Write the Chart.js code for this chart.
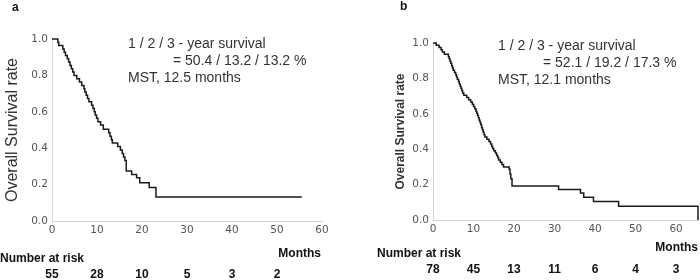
<!DOCTYPE html>
<html>
<head>
<meta charset="utf-8">
<script src="https://cdn.jsdelivr.net/npm/chart.js@4"></script>
<style>
  body { margin: 0; background: #fff; }
  #wrap { position: relative; width: 700px; height: 280px; }
  canvas { position: absolute; top: 0; }
</style>
</head>
<body>
<div id="wrap">
  <canvas id="chartA" width="350" height="280" style="left:0"></canvas>
  <canvas id="chartB" width="350" height="280" style="left:350px"></canvas>
</div>
<script>
// Panel a: Kaplan-Meier steps (months, survival after each drop)
const monthsA = [0, 1.3, 1.5, 2.4, 2.7, 3.0, 3.4, 3.7, 4.0, 4.3, 4.6, 4.9, 5.5, 6.1, 6.6, 7.1, 7.3, 7.6, 7.9, 8.2,
  8.8, 9.1, 9.4, 9.6, 9.9, 10.2, 10.8, 11.4, 12.6, 12.9, 13.2, 13.4, 14.6, 15.2, 15.6, 15.9, 16.2, 16.5,
  17.7, 18.8, 19.5, 21.6, 23.1, 55.5];
const survivalA = [1.0, 0.982, 0.964, 0.945, 0.927, 0.909, 0.891, 0.873, 0.855, 0.836, 0.818, 0.800, 0.782, 0.764,
  0.745, 0.727, 0.709, 0.691, 0.673, 0.655, 0.636, 0.618, 0.600, 0.582, 0.564, 0.545, 0.527, 0.504, 0.485,
  0.466, 0.447, 0.428, 0.409, 0.390, 0.371, 0.352, 0.333, 0.275, 0.256, 0.237, 0.210, 0.184, 0.132, 0.132];
const riskTimesA = [0, 10, 20, 30, 40, 50];
const riskCountsA = [55, 28, 10, 5, 3, 2];

// Panel b
const monthsB = [0, 0.8, 1.5, 2.0, 2.3, 2.8, 3.8, 4.0, 4.2, 4.4, 4.6, 4.8, 5.0, 5.3, 5.6, 5.8, 6.0, 6.3, 6.5, 6.7,
  6.9, 7.1, 7.3, 7.6, 8.3, 8.8, 9.3, 9.7, 10.0, 10.3, 10.6, 10.8, 11.0, 11.2, 11.4, 11.6, 11.8, 12.0, 12.2,
  12.4, 12.6, 12.8, 13.3, 13.8, 14.2, 14.5, 14.7, 15.0, 15.4, 15.7, 16.0, 16.2, 16.6, 17.0, 17.4, 18.8,
  19.0, 19.2, 19.5, 31.0, 36.4, 37.2, 39.6, 45.8, 65.4];
const survivalB = [1.0, 0.987, 0.974, 0.962, 0.949, 0.936, 0.923, 0.910, 0.897, 0.885, 0.872, 0.859, 0.846, 0.833,
  0.821, 0.808, 0.795, 0.782, 0.769, 0.756, 0.744, 0.731, 0.718, 0.705, 0.692, 0.679, 0.667, 0.654, 0.641,
  0.628, 0.615, 0.603, 0.590, 0.577, 0.564, 0.551, 0.538, 0.521, 0.508, 0.495, 0.482, 0.469, 0.456, 0.443,
  0.430, 0.417, 0.404, 0.391, 0.378, 0.365, 0.352, 0.339, 0.326, 0.313, 0.300, 0.287, 0.260, 0.233, 0.192,
  0.172, 0.152, 0.128, 0.104, 0.077, 0.0];
const riskTimesB = [0, 10, 20, 30, 40, 50, 60];
const riskCountsB = [78, 45, 13, 11, 6, 4, 3];

const yTicks = [0, 0.2, 0.4, 0.6, 0.8, 1.0];

Chart.defaults.font.family = "'Liberation Sans', Arial, sans-serif";
Chart.defaults.color = '#333';

function points(xs, ys) {
  return xs.map((x, i) => ({ x: x, y: ys[i] }));
}

// draws the panel letter, survival notes and the number-at-risk row
function notesPlugin(cfg) {
  return {
    id: 'notes',
    afterDraw(chart) {
      const ctx = chart.ctx;
      const xs = chart.scales.x;
      ctx.save();
      ctx.fillStyle = '#111';
      ctx.textBaseline = 'middle';
      ctx.font = "bold 12px 'Liberation Sans', Arial";
      ctx.textAlign = 'left';
      ctx.fillText(cfg.letter, cfg.letterX, cfg.letterY);

      ctx.fillStyle = '#333';
      ctx.font = "14px 'Liberation Sans', Arial";
      ctx.fillText('1 / 2 / 3 - year survival', cfg.noteX, cfg.noteY);
      ctx.fillText(cfg.rates, cfg.noteX + 45, cfg.noteY + 17);
      ctx.fillText(cfg.mst, cfg.noteX, cfg.noteY + 34);

      ctx.fillStyle = '#111';
      ctx.font = "bold 12px 'Liberation Sans', Arial";
      ctx.fillText('Number at risk', cfg.riskLabelX, cfg.riskLabelY);
      ctx.textAlign = 'right';
      ctx.fillText('Months', cfg.monthsX, cfg.monthsY);
      ctx.textAlign = 'center';
      cfg.riskTimes.forEach((t, i) => {
        ctx.fillText(String(cfg.riskCounts[i]), xs.getPixelForValue(t), cfg.riskY);
      });
      ctx.restore();
    }
  };
}

function makeChart(id, xs, ys, opt) {
  return new Chart(document.getElementById(id), {
    type: 'line',
    data: {
      datasets: [{
        data: points(xs, ys),
        stepped: 'before',
        borderColor: '#1a1a1a',
        borderWidth: 1.5,
        pointRadius: 0,
        fill: false,
        clip: false
      }]
    },
    options: {
      responsive: false,
      animation: false,
      layout: { padding: { left: opt.padLeft, right: opt.padRight, top: opt.padTop, bottom: 0 } },
      plugins: { legend: { display: false }, tooltip: { enabled: false } },
      scales: {
        x: {
          type: 'linear',
          min: 0,
          max: opt.xMax,
          grid: { display: false, drawTicks: false },
          border: { display: true, color: '#d4d4d4', width: 1 },
          ticks: {
            stepSize: 10,
            includeBounds: false,
            padding: 3,
            maxRotation: 0,
            color: '#555',
            font: { family: "'DejaVu Sans'", size: 10.5 }
          },
          afterFit: s => { s.height = opt.xHeight; }
        },
        y: {
          min: 0,
          max: 1,
          afterBuildTicks: s => { s.ticks = yTicks.map(v => ({ value: v })); },
          grid: { display: false, drawTicks: false },
          border: { display: true, color: '#d4d4d4', width: 1 },
          ticks: {
            padding: 4,
            color: '#555',
            font: { family: "'DejaVu Sans'", size: 10.5 },
            callback: v => v.toFixed(1)
          },
          title: {
            display: true,
            text: 'Overall Survival rate',
            color: '#333',
            font: opt.titleFont,
            padding: { top: 3, bottom: 0 }
          },
          afterFit: s => { s.width = opt.yWidth; }
        }
      }
    },
    plugins: [notesPlugin(opt.notes)]
  });
}

makeChart('chartA', monthsA, survivalA, {
  padLeft: 0, padRight: 28, padTop: 39, xHeight: 59, yWidth: 52, xMax: 60,
  titleFont: { size: 16, weight: 'normal' },
  notes: {
    letter: 'a', letterX: 12, letterY: 8,
    noteX: 128, noteY: 44,
    rates: '= 50.4 / 13.2 / 13.2 %',
    mst: 'MST, 12.5 months',
    riskLabelX: 0, riskLabelY: 259,
    monthsX: 321, monthsY: 254,
    riskY: 275,
    riskTimes: riskTimesA, riskCounts: riskCountsA
  }
});

makeChart('chartB', monthsB, survivalB, {
  padLeft: 40, padRight: 2, padTop: 43, xHeight: 60, yWidth: 43, xMax: 65.4,
  titleFont: { size: 12, weight: 'bold' },
  notes: {
    letter: 'b', letterX: 50, letterY: 7,
    noteX: 148, noteY: 46,
    rates: '= 52.1 / 19.2 / 17.3 %',
    mst: 'MST, 12.1 months',
    riskLabelX: 27, riskLabelY: 254,
    monthsX: 348, monthsY: 248,
    riskY: 270,
    riskTimes: riskTimesB, riskCounts: riskCountsB
  }
});
</script>
</body>
</html>
